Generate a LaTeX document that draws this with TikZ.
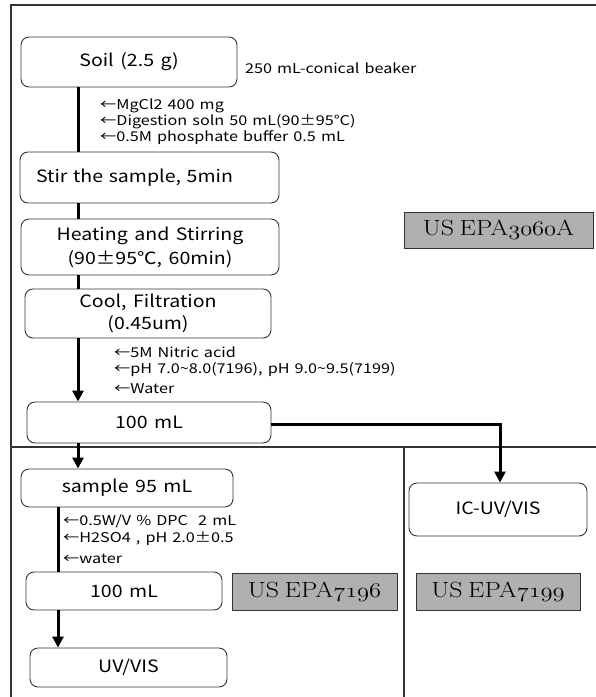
\documentclass[tikz,border=0pt]{standalone}
\usepackage{fontspec}
\usepackage{graphicx}
\newfontfamily\kor[FakeStretch=1.15,WordSpace=1.5]{Noto Sans CJK KR}
\newfontfamily\korl[FakeStretch=1.2,WordSpace=1.4]{Noto Sans CJK KR}
\usetikzlibrary{arrows.meta}
\definecolor{frame}{HTML}{333333}
\definecolor{epagray}{HTML}{B0B0B0}
\newcommand{\osn}[1]{$\mathnormal{#1}$}
\newcommand{\epatext}[1]{\scalebox{1.18}[1]{#1}}
\tikzset{
  box/.style={draw=frame, line width=0.9pt, rounded corners=8pt, inner sep=0pt,
    font=\kor\fontsize{17}{24}\selectfont, align=center},
  lbl/.style={anchor=west, inner sep=0pt, font=\korl\fontsize{13.5}{15}\selectfont},
  epa/.style={draw=frame, line width=1pt, fill=epagray, inner sep=0pt,
    font=\fontsize{22}{24}\selectfont},
  flow/.style={line width=3pt, black},
  flowarr/.style={line width=3pt, black, -{Triangle[width=11pt,length=11pt]}},
  rule/.style={draw=frame, line width=1.3pt}
}
\begin{document}
\begin{tikzpicture}[x=1pt,y=-1pt]
\useasboundingbox (0,0) rectangle (596,697);
% frame lines
\draw[rule] (11,697) -- (11,5) -- (596,5);
\draw[rule] (11,447) -- (596,447);
\draw[rule] (404,447) -- (404,697);
% boxes
\node[box, minimum width=216pt, minimum height=50pt] (soil) at (129,62) {Soil (2.5 g)};
\node[box, minimum width=259pt, minimum height=51pt, text width=227pt, align=left] (stir) at (149.5,177.5) {Stir the sample, 5min};
\node[box, minimum width=258pt, minimum height=56pt] (heat) at (150,247) {Heating and Stirring\\(90±95℃, 60min)};
\node[box, minimum width=246pt, minimum height=49pt, font=\kor\fontsize{17}{22}\selectfont] (cool) at (148,313.5) {Cool, Filtration\\(0.45um)};
\node[box, minimum width=244pt, minimum height=41pt] (hund) at (149,422.5) {100 mL};
\node[box, minimum width=212pt, minimum height=38pt] (samp) at (127,488) {sample 95 mL};
\node[box, minimum width=196pt, minimum height=38pt] (hundb) at (124,591) {100 mL};
\node[box, minimum width=197pt, minimum height=39pt] (uv) at (128.5,667.5) {UV/VIS};
\node[box, minimum width=178pt, minimum height=53pt] (ic) at (498,509.5) {IC-UV/VIS};
% EPA labels
\node[epa, minimum width=189pt, minimum height=36pt] (e3060) at (498.5,230) {\epatext{US\hspace{0.22em}EPA\osn{3060}A}};
\node[epa, minimum width=165pt, minimum height=37pt] (e7196) at (314.5,591.5) {\epatext{US\hspace{0.22em}EPA\osn{7196}}};
\node[epa, minimum width=164pt, minimum height=37pt] (e7199) at (498,591.5) {\epatext{US\hspace{0.22em}EPA\osn{7199}}};
% side texts
\node[lbl] (beaker) at (245,68) {250 mL-conical beaker};
\node[lbl] (l1) at (100,106) {←MgCl2 400 mg};
\node[lbl] (l2) at (100,122) {←Digestion soln 50 mL(90±95℃)};
\node[lbl] (l3) at (100,138) {←0.5M phosphate buffer 0.5 mL};
\node[lbl] (l4) at (114,352) {←5M Nitric acid};
\node[lbl] (l5) at (114,370) {←pH 7.0\char"007E 8.0(7196), pH 9.0\char"007E 9.5(7199)};
\node[lbl] (l6) at (114,389) {←Water};
\node[lbl] (l7) at (63,521) {←0.5W/V \% DPC\ \ 2 mL};
\node[lbl] (l8) at (63,539) {←H2SO4 , pH 2.0±0.5};
\node[lbl] (l9) at (63,559) {←water};
% connectors
\coordinate (xa) at (78,0);
\coordinate (xc) at (58,0);
\coordinate (xd) at (500,0);
\draw[flow] (xa |- soil.south) -- (xa |- stir.north);
\draw[flow] (xa |- stir.south) -- (xa |- heat.north);
\draw[flow] (xa |- heat.south) -- (xa |- cool.north);
\draw[flowarr] (xa |- cool.south) -- (xa |- hund.north);
\draw[flowarr] (xa |- hund.south) -- (xa |- samp.north);
\draw[flow] (xc |- samp.south) -- (xc |- hundb.north);
\draw[flowarr] (xc |- hundb.south) -- (xc |- uv.north);
\draw[flowarr] ([yshift=-2pt]hund.east) -| (xd |- ic.north);
\end{tikzpicture}
\end{document}
